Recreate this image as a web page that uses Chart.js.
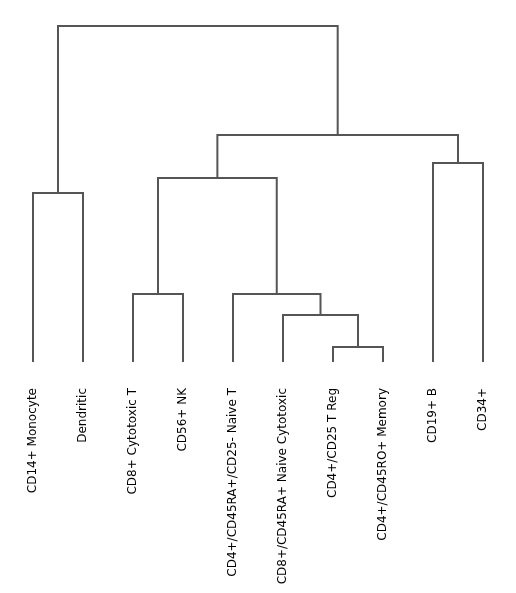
<!DOCTYPE html>
<html>
<head>
<meta charset="utf-8">
<script src="https://cdn.jsdelivr.net/npm/chart.js@4"></script>
<style>
  body { margin: 0; background: #fff; }
  #wrap { width: 516px; height: 593px; }
</style>
</head>
<body>
<div id="wrap"><canvas id="myChart"></canvas></div>
<script>
	// Blätter in Reihenfolge des Dendrogramms
	var leafLabels = ['CD14+ Monocyte', 'Dendritic', 'CD8+ Cytotoxic T', 'CD56+ NK',
		'CD4+/CD45RA+/CD25- Naive T', 'CD8+/CD45RA+ Naive Cytotoxic', 'CD4+/CD25 T Reg',
		'CD4+/CD45RO+ Memory', 'CD19+ B', 'CD34+'];
	var leafX = [5, 15, 25, 35, 45, 55, 65, 75, 85, 95];

	// Verknüpfungen (Index < 10 = Blatt, sonst Cluster 10 + n)
	var mergeLeft = [6, 5, 2, 4, 0, 12, 8, 15, 14];
	var mergeRight = [7, 10, 3, 11, 1, 13, 9, 16, 17];
	var mergeHeight = [15, 47, 68, 68, 169, 184, 199, 227, 336];

	var lineColor = '#555555';
	var chart;

	function buildLinks() {
		var n = leafLabels.length;
		var posX = leafX.slice();
		var posY = leafX.map(function() { return 0; });
		var sets = [];
		for (var i = 0; i < mergeHeight.length; i++) {
			var a = mergeLeft[i], b = mergeRight[i], h = mergeHeight[i];
			sets.push({
				data: [
					{x: posX[a], y: posY[a]},
					{x: posX[a], y: h},
					{x: posX[b], y: h},
					{x: posX[b], y: posY[b]}
				],
				borderColor: lineColor,
				borderWidth: 2,
				pointRadius: 0,
				fill: false,
				tension: 0,
				clip: false
			});
			posX[n + i] = (posX[a] + posX[b]) / 2;
			posY[n + i] = h;
		}
		return sets;
	}

	var ctx = document.getElementById('myChart').getContext('2d');
	chart = new Chart(ctx, {
		type: 'line',
		data: { datasets: buildLinks() },
		options: {
			responsive: true,
			maintainAspectRatio: false,
			animation: false,
			layout: { padding: { top: 26, left: 8, right: 8, bottom: 0 } },
			plugins: { legend: { display: false }, tooltip: { enabled: false } },
			scales: {
				x: {
					type: 'linear',
					min: 0,
					max: 100,
					grid: { display: false, drawTicks: false },
					border: { display: false },
					afterBuildTicks: function(scale) {
						scale.ticks = leafX.map(function(v) { return {value: v}; });
					},
					afterFit: function(scale) {
						scale.height = 231;
						scale.paddingLeft = 0;
						scale.paddingRight = 0;
					},
					ticks: {
						autoSkip: false,
						minRotation: 90,
						maxRotation: 90,
						padding: 26,
						color: '#000000',
						font: { family: 'DejaVu Sans', size: 12 },
						callback: function(value) {
							var i = leafX.indexOf(value);
							return i >= 0 ? leafLabels[i] : '';
						}
					}
				},
				y: {
					type: 'linear',
					min: 0,
					max: 336,
					display: false
				}
			}
		}
	});
</script>
</body>
</html>
